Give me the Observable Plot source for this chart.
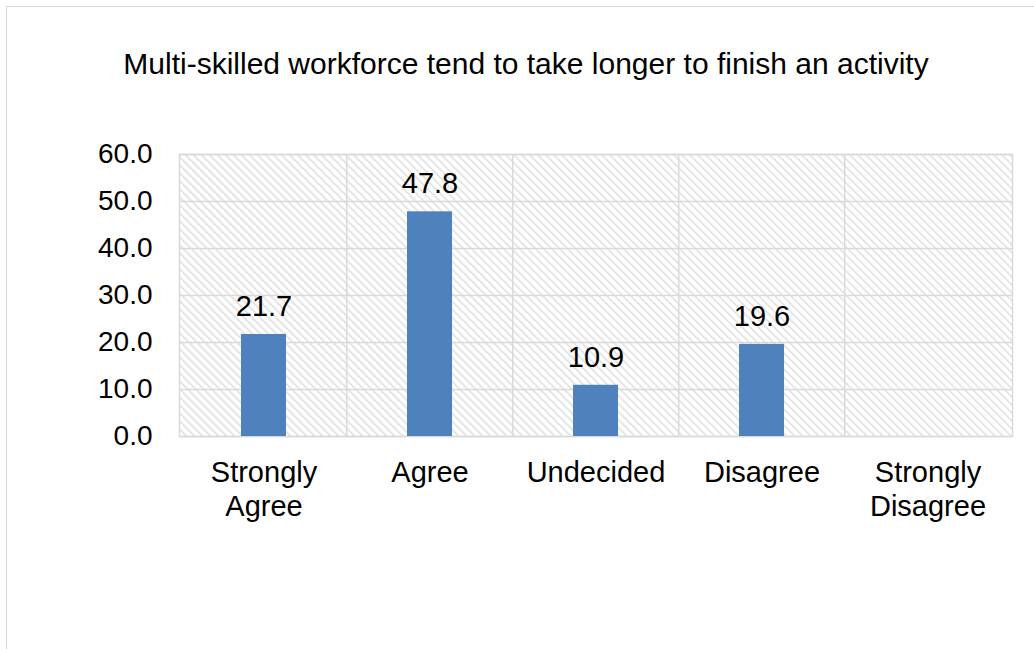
<!DOCTYPE html>
<html><head><meta charset="utf-8">
<script src="https://cdn.jsdelivr.net/npm/d3@7"></script>
<script src="https://cdn.jsdelivr.net/npm/@observablehq/plot@0.6"></script>
<style>
html,body{margin:0;padding:0;background:#fff;}
body{width:1034px;height:649px;position:relative;overflow:hidden;font-family:"Liberation Sans",Arial,sans-serif;}
#border{position:absolute;left:6px;top:6px;width:1100px;height:700px;border:1.5px solid #d9d9d9;box-sizing:border-box;}
#title{position:absolute;left:0;top:49px;width:1052px;text-align:center;font-size:30px;line-height:30px;color:#000;white-space:nowrap;}
#chart{position:absolute;left:0;top:0;}
</style></head><body>
<div id="border"></div>
<div id="title">Multi-skilled workforce tend to take longer to finish an activity</div>
<div id="chart"></div>
<script>
const categories = ["Strongly\nAgree", "Agree", "Undecided", "Disagree", "Strongly\nDisagree"];
const values = [21.7, 47.8, 10.9, 19.6, null];
const yTicks = [0, 10, 20, 30, 40, 50, 60];

const data = categories.map((c, i) => ({category: c, value: values[i]})).filter(d => d.value != null);

const W = 1034, H = 649;
const mL = 179, mR = 22, mT = 154, mB = 213;
const step = (W - mL - mR) / categories.length;
const grid = "#d9d9d9";
const fmt = d3.format(".1f");

const chart = Plot.plot({
  width: W,
  height: H,
  marginLeft: mL,
  marginRight: mR,
  marginTop: mT,
  marginBottom: mB,
  style: {fontFamily: "'Liberation Sans', Arial, sans-serif", fontSize: "28px", background: "none", color: "black", overflow: "visible"},
  x: {domain: categories, paddingInner: 0.73, paddingOuter: 0.365, label: null, axis: null},
  y: {domain: [0, 60], label: null, axis: null},
  marks: [
    Plot.frame({fill: "url(#hatch)", stroke: null}),
    Plot.gridY(yTicks, {stroke: grid, strokeOpacity: 1, strokeWidth: 1.5}),
    Plot.ruleX(categories.slice(1), {x: d => d, dx: -step / 2, stroke: grid, strokeOpacity: 1, strokeWidth: 1.5}),
    Plot.frame({stroke: grid, strokeWidth: 1.5}),
    Plot.barY(data, {x: "category", y: "value", fill: "#4F81BD"}),
    Plot.text(data, {x: "category", y: "value", text: d => fmt(d.value), dy: -28, lineAnchor: "middle", fontSize: 29, fill: "black"}),
    Plot.axisY(yTicks, {tickSize: 0, tickPadding: 27, tickFormat: fmt, fontSize: 28, fill: "black"}),
    Plot.axisX({tickSize: 0, tickPadding: 21, fontSize: 29, lineHeight: 1.18, fill: "black"})
  ]
});

d3.select(chart).insert("defs", ":first-child").html(
  '<pattern id="hatch" width="6" height="5.66" patternUnits="userSpaceOnUse" patternTransform="rotate(45)">' +
  '<rect width="6" height="5.66" fill="white"/>' +
  '<line x1="0" y1="1" x2="6" y2="1" stroke="#e0e0e0" stroke-width="1.6"/>' +
  '</pattern>'
);

document.getElementById("chart").appendChild(chart);
</script>
</body></html>
